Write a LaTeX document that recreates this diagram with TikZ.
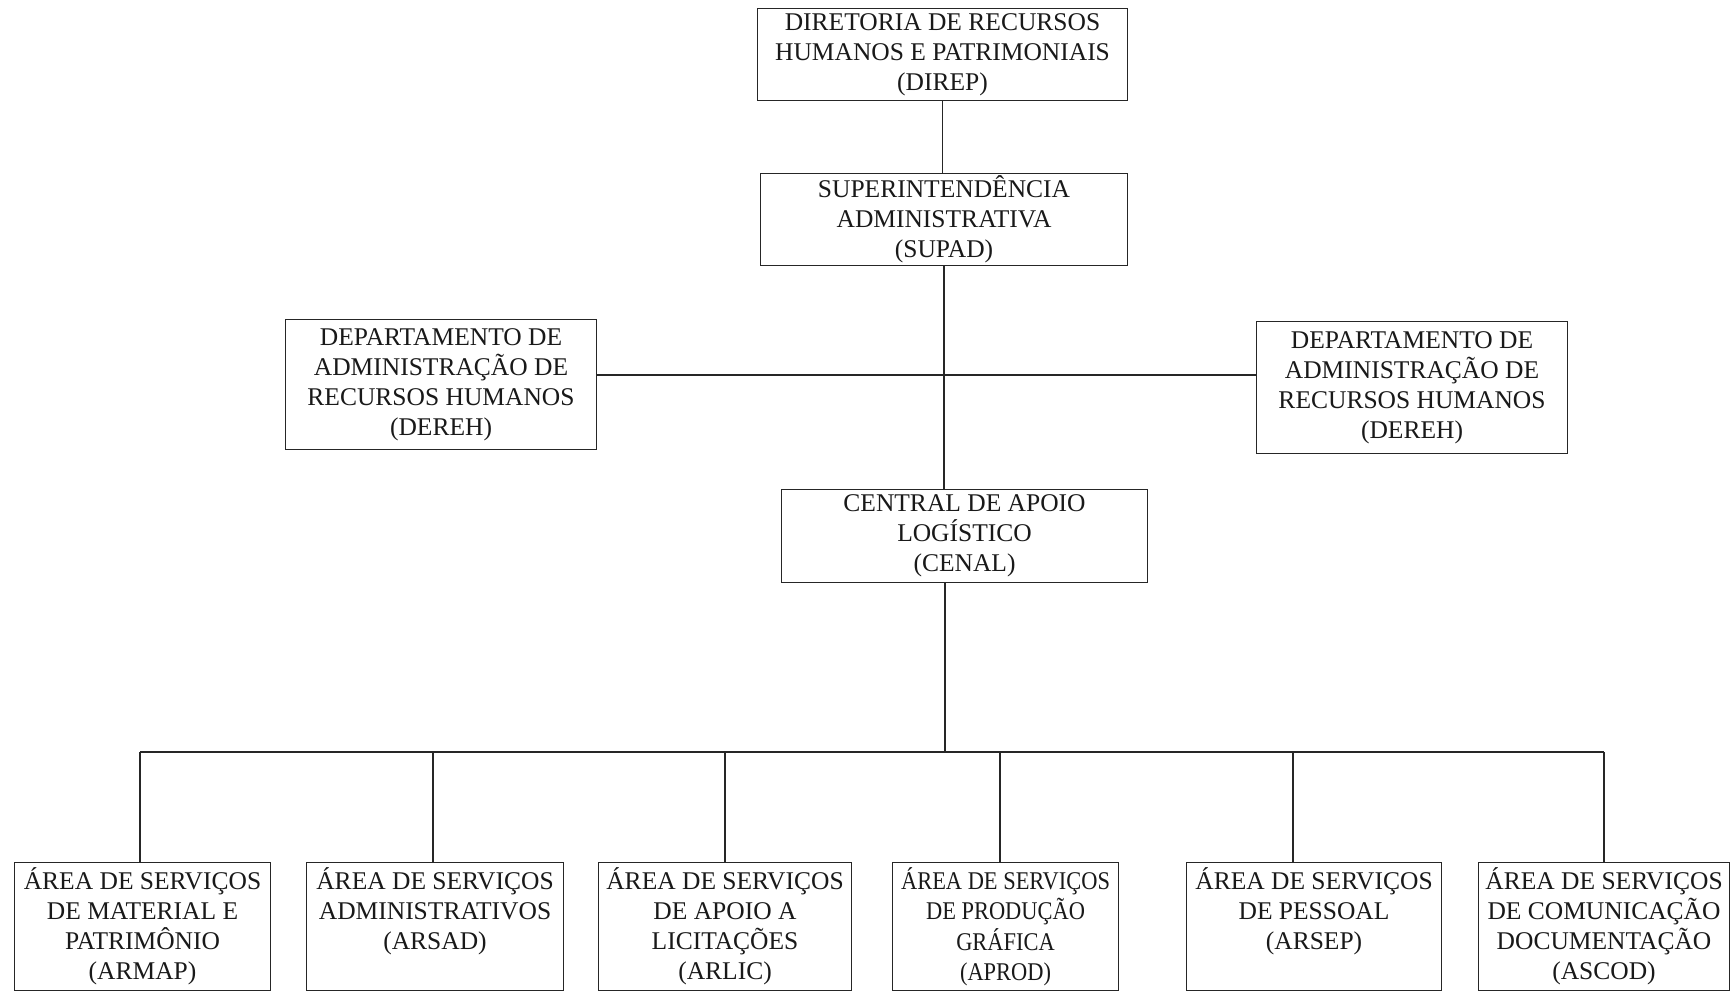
\documentclass[tikz,border=0pt]{standalone}
\usepackage{fontspec}
\setmainfont{Liberation Serif}
\begin{document}
\begin{tikzpicture}[x=1pt,y=-1pt,
  box/.style={draw=black!85, line width=1.05pt, rectangle, inner sep=0pt, anchor=north west,
              align=center, font=\fontsize{25.5}{30}\selectfont, text=black!90},
  txt/.style={align=center, font=\fontsize{25.5}{30}\selectfont, text=black!90, inner sep=0pt, anchor=north},
  conn/.style={draw=black!85, line width=1.05pt}]
\useasboundingbox (0,0) rectangle (1731,993);
\fill[white] (0,0) rectangle (1731,993);

% upper boxes
\node[box, minimum width=370pt, minimum height=92pt] (direp) at (757,8)
  {DIRETORIA DE RECURSOS\\HUMANOS E PATRIMONIAIS\\(DIREP)};
\node[box, minimum width=367pt, minimum height=92pt] (supad) at (760,173)
  {SUPERINTENDÊNCIA\\ADMINISTRATIVA\\(SUPAD)};
\node[box, minimum width=311pt, minimum height=130pt] (dereh1) at (285,319)
  {DEPARTAMENTO DE\\ADMINISTRAÇÃO DE\\RECURSOS HUMANOS\\(DEREH)};
\node[box, minimum width=311pt, minimum height=132pt] (dereh2) at (1256,321)
  {DEPARTAMENTO DE\\ADMINISTRAÇÃO DE\\RECURSOS HUMANOS\\(DEREH)};
\node[box, minimum width=366pt, minimum height=93pt] (cenal) at (781,489)
  {CENTRAL DE APOIO\\LOGÍSTICO\\(CENAL)};

% bottom boxes
\node[box, minimum width=256pt, minimum height=128pt] (armap) at (14,862) {};
\node[box, minimum width=257pt, minimum height=128pt] (arsad) at (306,862) {};
\node[box, minimum width=253pt, minimum height=128pt] (arlic) at (598,862) {};
\node[box, minimum width=226pt, minimum height=128pt] (aprod) at (892,862) {};
\node[box, minimum width=255pt, minimum height=128pt] (arsep) at (1186,862) {};
\node[box, minimum width=251pt, minimum height=128pt] (ascod) at (1478,862) {};

\node[txt, yshift=-5pt] (armapt) at (armap.north) {ÁREA DE SERVIÇOS\\DE MATERIAL E\\PATRIMÔNIO\\(ARMAP)};
\node[txt, yshift=-5pt] (arsadt) at (arsad.north) {ÁREA DE SERVIÇOS\\ADMINISTRATIVOS\\(ARSAD)};
\node[txt, yshift=-5pt] (arlict) at (arlic.north) {ÁREA DE SERVIÇOS\\DE APOIO A\\LICITAÇÕES\\(ARLIC)};
\node[txt, yshift=-5pt] (aprodt) at (aprod.north) {\scalebox{0.88}[1]{\begin{tabular}{@{}c@{}}ÁREA DE SERVIÇOS\\DE PRODUÇÃO\\GRÁFICA\\(APROD)\end{tabular}}};
\node[txt, yshift=-5pt] (arsept) at (arsep.north) {ÁREA DE SERVIÇOS\\DE PESSOAL\\(ARSEP)};
\node[txt, yshift=-5pt] (ascodt) at (ascod.north) {ÁREA DE SERVIÇOS\\DE COMUNICAÇÃO\\DOCUMENTAÇÃO\\(ASCOD)};

% connectors
\draw[conn] (direp.south) -- (direp.south |- supad.north);
\coordinate (mid) at (944,375);
\draw[conn] (supad.south -| mid) -- (mid |- cenal.north);
\draw[conn] (dereh1.east |- mid) -- (dereh2.west |- mid);
\coordinate (bus) at (945,752);
\draw[conn] (cenal.south -| bus) -- (bus);
\coordinate (d1) at (140,752);
\coordinate (d2) at (433,752);
\coordinate (d3) at (725,752);
\coordinate (d4) at (1000,752);
\coordinate (d5) at (1293,752);
\coordinate (d6) at (1604,752);
\draw[conn] (d1) -- (d6);
\draw[conn] (d1) -- (d1 |- armap.north);
\draw[conn] (d2) -- (d2 |- arsad.north);
\draw[conn] (d3) -- (d3 |- arlic.north);
\draw[conn] (d4) -- (d4 |- aprod.north);
\draw[conn] (d5) -- (d5 |- arsep.north);
\draw[conn] (d6) -- (d6 |- ascod.north);
\end{tikzpicture}
\end{document}
